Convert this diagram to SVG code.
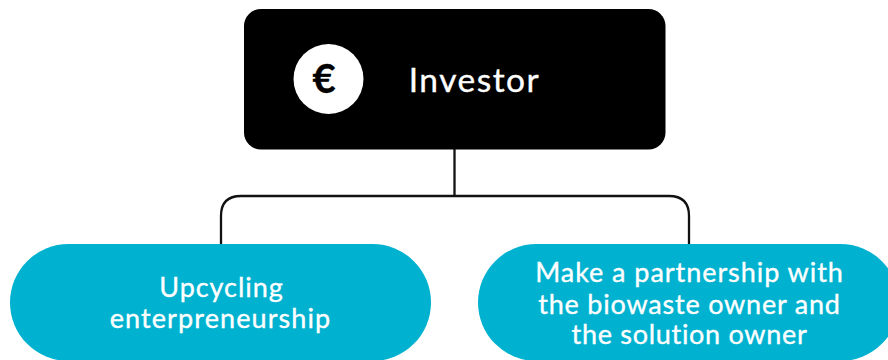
<svg xmlns="http://www.w3.org/2000/svg" width="888" height="360" viewBox="0 0 888 360">
<style>
text{font-family:"Lato","Noto Sans",sans-serif;fill:#fff;stroke:#fff;stroke-width:.35px;text-anchor:middle;font-size:27px;letter-spacing:.95px}
.pill{fill:#00b2d0}
.conn{fill:none;stroke:#111;stroke-width:2.300}
</style>
<rect width="888" height="360" fill="#fff"/>
<g id="connectors">
<path class="conn" d="M454.500 149V196"/>
<path class="conn" d="M221 244V216Q221 196 241 196H669Q689 196 689 216V244"/>
</g>
<g id="investor">
<rect x="244" y="9" width="421.500" height="140.500" rx="17" fill="#000"/>
<circle cx="328.500" cy="79" r="35" fill="#fff"/>
<text x="324" y="93" style="font-size:40px;font-weight:700;fill:#000;stroke:#000;letter-spacing:0">€</text>
<text x="474.500" y="92" style="font-size:33.500px;letter-spacing:1.500px">Investor</text>
</g>
<g id="upcycling">
<rect class="pill" x="10" y="244" width="421" height="117" rx="58.500"/>
<text x="221.500" y="297">Upcycling</text>
<text x="220.500" y="328" style="letter-spacing:1.100px">enterpreneurship</text>
</g>
<g id="partnership">
<rect class="pill" x="478" y="244" width="421" height="117" rx="58.500"/>
<text x="689.500" y="282">Make a partnership with</text>
<text x="689.500" y="314" style="letter-spacing:.8px">the biowaste owner and</text>
<text x="689.500" y="344" style="letter-spacing:.7px">the solution owner</text>
</g>
</svg>
